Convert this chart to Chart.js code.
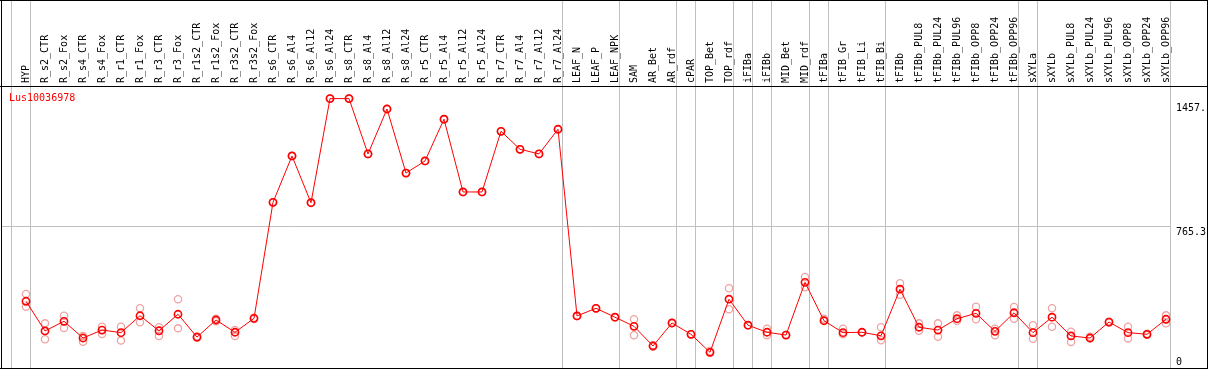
<!DOCTYPE html>
<html><head><meta charset="utf-8">
<script src="https://cdn.jsdelivr.net/npm/chart.js@4/dist/chart.umd.min.js"></script>
<style>html,body{margin:0;padding:0;background:#fff;}canvas{display:block;}</style>
</head><body>
<canvas id="c" width="1209" height="370"></canvas>
<script>
const geneName = 'Lus10036978';
const categories = ['HYP','R_s2_CTR','R_s2_Fox','R_s4_CTR','R_s4_Fox','R_r1_CTR','R_r1_Fox','R_r3_CTR','R_r3_Fox','R_r1s2_CTR','R_r1s2_Fox','R_r3s2_CTR','R_r3s2_Fox','R_s6_CTR','R_s6_Al4','R_s6_Al12','R_s6_Al24','R_s8_CTR','R_s8_Al4','R_s8_Al12','R_s8_Al24','R_r5_CTR','R_r5_Al4','R_r5_Al12','R_r5_Al24','R_r7_CTR','R_r7_Al4','R_r7_Al12','R_r7_Al24','LEAF_N','LEAF_P','LEAF_NPK','SAM','AR_Bet','AR_rdf','cPAR','TOP_Bet','TOP_rdf','iFIBa','iFIBb','MID_Bet','MID_rdf','tFIBa','tFIB_Gr','tFIB_Li','tFIB_Bi','tFIBb','tFIBb_PUL8','tFIBb_PUL24','tFIBb_PUL96','tFIBb_OPP8','tFIBb_OPP24','tFIBb_OPP96','sXYLa','sXYLb','sXYLb_PUL8','sXYLb_PUL24','sXYLb_PUL96','sXYLb_OPP8','sXYLb_OPP24','sXYLb_OPP96'];
const meanValues = [365,205,257,167,210,196,287,206,295,172,264,198,273,898,1148,896,1457,1457,1159,1401,1056,1121,1346,954,954,1281,1184,1159,1292,286,327,279,230,124,248,187,90,376,236,198,183,467,260,196,198,179,430,225,210,271,300,203,303,196,279,178,167,253,196,187,268];
const rep1Values = [404,246,287,178,228,228,327,225,376,175,271,210,276,898,1148,896,1457,1457,1159,1401,1056,1121,1346,954,954,1281,1184,1159,1292,286,327,279,268,128,248,187,97,435,236,217,183,496,271,217,198,225,462,246,246,289,336,217,334,236,327,201,174,255,228,190,289];
const rep2Values = [336,160,221,147,189,153,252,178,219,169,257,178,270,898,1148,896,1457,1457,1159,1401,1056,1121,1346,954,954,1281,1184,1159,1292,286,327,279,182,120,248,187,88,322,236,182,183,440,260,187,198,155,400,206,174,260,268,182,271,163,228,146,164,251,165,184,246];
const groupEnds = [-1,0,28,31,34,35,37,38,39,41,42,45,52,53,60];
const yTickValues = [0, 765.3, 1457];
const yTickLabels = ['0', '765.3', '1457.'];

const FONT = '"DejaVu Sans Mono", monospace';
const toPts = arr => arr.map((v, i) => ({x: i, y: v}));
const SEP = 4 / 19;

const framePlugin = {
  id: 'frame',
  beforeDraw(chart) {
    const {ctx, scales: {x}, chartArea: a} = chart;
    ctx.save();
    ctx.fillStyle = '#fff';
    ctx.fillRect(0, 0, chart.width, chart.height);
    ctx.strokeStyle = '#c0c0c0';
    ctx.lineWidth = 1;
    groupEnds.forEach(g => {
      const px = Math.round(x.getPixelForValue(g + SEP)) + 0.5;
      ctx.beginPath(); ctx.moveTo(px, 0); ctx.lineTo(px, a.bottom); ctx.stroke();
    });
    ctx.restore();
  },
  afterDraw(chart) {
    const {ctx, scales: {y}, chartArea: a} = chart;
    ctx.save();
    ctx.strokeStyle = '#000';
    ctx.lineWidth = 1;
    ctx.beginPath();
    ctx.moveTo(0, 0.5); ctx.lineTo(1208, 0.5);
    ctx.moveTo(0, a.top + 0.5); ctx.lineTo(1208, a.top + 0.5);
    ctx.moveTo(0, 368.5); ctx.lineTo(1208, 368.5);
    ctx.moveTo(1.5, 0); ctx.lineTo(1.5, 369);
    ctx.moveTo(1207.5, 0); ctx.lineTo(1207.5, 369);
    ctx.stroke();
    ctx.font = '10px ' + FONT;
    ctx.textBaseline = 'alphabetic';
    ctx.textAlign = 'left';
    ctx.fillStyle = '#ff0000';
    ctx.fillText(geneName, 9, 101);
    ctx.fillStyle = '#000';
    const offs = [-4, 8, 12.5];
    yTickValues.forEach((v, i) => {
      ctx.fillText(yTickLabels[i], 1176, y.getPixelForValue(v) + offs[i]);
    });
    ctx.restore();
  }
};

new Chart(document.getElementById('c'), {
  type: 'line',
  data: {
    datasets: [
      {label: geneName, data: toPts(meanValues), borderColor: '#ff0000', borderWidth: 1,
       pointStyle: 'circle', pointRadius: 3.6, pointBorderWidth: 1.6, pointBorderColor: '#ff0000',
       pointBackgroundColor: 'rgba(0,0,0,0)', tension: 0, clip: false},
      {label: 'rep1', data: toPts(rep1Values), showLine: false, pointRadius: 3.6, pointBorderWidth: 1.3,
       pointBorderColor: '#eea3a3', pointBackgroundColor: 'rgba(0,0,0,0)', clip: false},
      {label: 'rep2', data: toPts(rep2Values), showLine: false, pointRadius: 3.6, pointBorderWidth: 1.3,
       pointBorderColor: '#eea3a3', pointBackgroundColor: 'rgba(0,0,0,0)', clip: false}
    ]
  },
  options: {
    responsive: false,
    animation: false,
    layout: {autoPadding: false, padding: {left: 1, right: 0, top: 0, bottom: 1}},
    plugins: {legend: {display: false}, tooltip: {enabled: false}},
    scales: {
      x: {
        type: 'linear', position: 'top', min: -25 / 19, max: 60 + SEP,
        afterBuildTicks: s => { s.ticks = categories.map((c, i) => ({value: i})); },
        afterFit: s => { s.height = 86; s.paddingLeft = 0; s.paddingRight = 0; },
        ticks: {autoSkip: false, minRotation: 90, maxRotation: 90, padding: 3, labelOffset: 12, color: '#000',
                font: {family: FONT, size: 10},
                callback: v => (categories[v] !== undefined ? categories[v] : '')},
        grid: {display: false, drawTicks: false},
        border: {display: false}
      },
      y: {
        type: 'linear', position: 'right', min: 0, max: 1525,
        afterBuildTicks: s => { s.ticks = yTickValues.map(v => ({value: v})); },
        afterFit: s => { s.width = 39; s.paddingTop = 0; s.paddingBottom = 0; },
        ticks: {display: false},
        grid: {color: c => (c.tick && c.tick.value === 765.3 ? '#c0c0c0' : 'rgba(0,0,0,0)'), drawTicks: false},
        border: {display: false}
      }
    }
  },
  plugins: [framePlugin]
});
</script>
</body></html>
